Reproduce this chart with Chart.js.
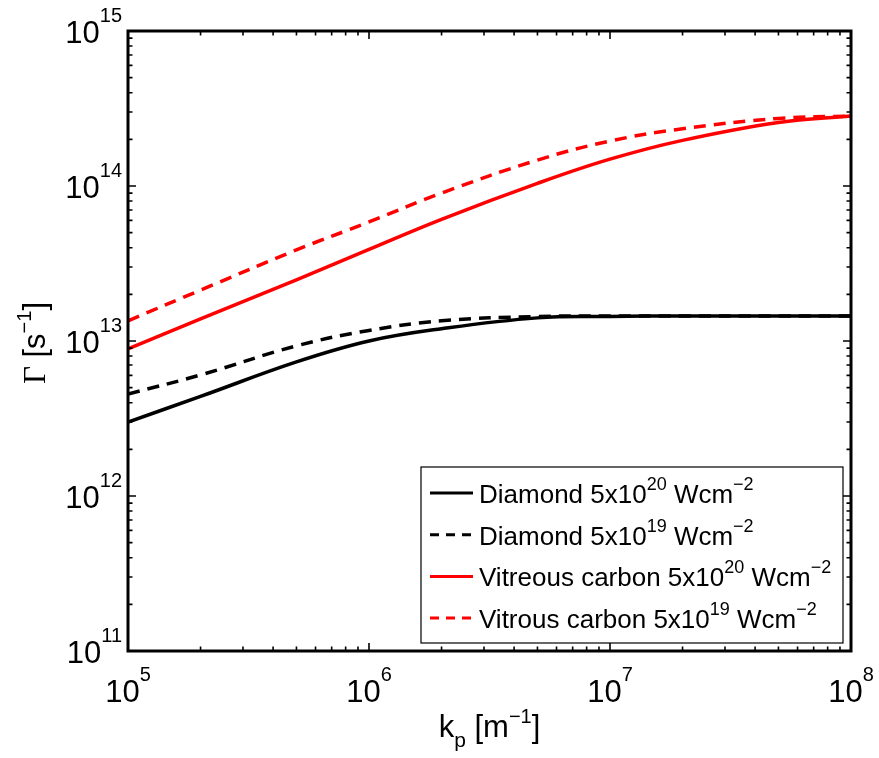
<!DOCTYPE html>
<html>
<head>
<meta charset="utf-8">
<script src="https://cdn.jsdelivr.net/npm/chart.js@4.4.1/dist/chart.umd.min.js"></script>
<style>
  html, body { margin: 0; padding: 0; background: #fff; }
  #wrap { width: 879px; height: 758px; }
</style>
</head>
<body>
<div id="wrap"><canvas id="gammaChart"></canvas></div>
<script>
// wavenumber k_p [m^-1]
const kp = [1e5, 2e5, 5e5, 1e6, 2e6, 5e6, 1e7, 2e7, 5e7, 1e8];

// growth rate Gamma [s^-1]
const diamond20   = [3.0e12, 4.39e12, 7.33e12, 1.0e13, 1.2e13, 1.41e13, 1.44e13, 1.45e13, 1.45e13, 1.45e13];
const diamond19   = [4.55e12, 6.04e12, 9.3e12, 1.17e13, 1.35e13, 1.44e13, 1.45e13, 1.45e13, 1.45e13, 1.45e13];
const vitreous20  = [8.9e12, 1.39e13, 2.48e13, 3.9e13, 6.1e13, 1.04e14, 1.49e14, 1.97e14, 2.57e14, 2.83e14];
const vitrous19   = [1.35e13, 2.13e13, 3.87e13, 5.86e13, 9.0e13, 1.47e14, 1.95e14, 2.34e14, 2.73e14, 2.83e14];

// decade exponents used for tick labels
const xTickExps = [5, 6, 7, 8];
const yTickExps = [11, 12, 13, 14, 15];

// legend entries
const legendNames = ['Diamond 5x10', 'Diamond 5x10', 'Vitreous carbon 5x10', 'Vitrous carbon 5x10'];
const legendExps  = ['20', '19', '20', '19'];

const SANS = "'Liberation Sans', Arial, sans-serif";
const SERIF = "'Liberation Serif', 'Times New Roman', serif";
const RED = '#ff0000';
const DASH = [12, 8];

const pts = (ys) => kp.map((k, i) => ({ x: k, y: ys[i] }));

const series = [
  { data: diamond20,  color: '#000', dashed: false },
  { data: diamond19,  color: '#000', dashed: true },
  { data: vitreous20, color: RED,    dashed: false },
  { data: vitrous19,  color: RED,    dashed: true },
];

// draw a run of text pieces; each piece = [text, font, baselineShift]
const runWidth = (ctx, parts) => parts.reduce((w, p) => { ctx.font = p[1]; return w + ctx.measureText(p[0]).width; }, 0);
const drawRun = (ctx, parts, x, y) => {
  let cx = x;
  parts.forEach(([t, f, dy]) => {
    ctx.font = f;
    ctx.fillText(t, cx, y + (dy || 0));
    cx += ctx.measureText(t).width;
  });
  return cx;
};

const powLabel = (e) => [['10', `31px ${SANS}`, 0], [String(e), `20px ${SANS}`, -21]];

const axesFrame = {
  id: 'axesFrame',
  afterDraw(chart) {
    const { ctx, chartArea: a, scales: { x, y } } = chart;
    ctx.save();
    ctx.fillStyle = '#000';
    ctx.strokeStyle = '#000';
    ctx.textBaseline = 'alphabetic';
    ctx.textAlign = 'left';

    // inward tick marks on all four sides
    ctx.lineWidth = 1.6;
    const majorLen = 8, minorLen = 4.5;
    const tickX = (v, len) => {
      const px = x.getPixelForValue(v);
      ctx.beginPath();
      ctx.moveTo(px, a.bottom); ctx.lineTo(px, a.bottom - len);
      ctx.moveTo(px, a.top);    ctx.lineTo(px, a.top + len);
      ctx.stroke();
    };
    const tickY = (v, len) => {
      const py = y.getPixelForValue(v);
      ctx.beginPath();
      ctx.moveTo(a.left, py);  ctx.lineTo(a.left + len, py);
      ctx.moveTo(a.right, py); ctx.lineTo(a.right - len, py);
      ctx.stroke();
    };
    xTickExps.forEach((e, i) => {
      tickX(10 ** e, majorLen);
      if (i < xTickExps.length - 1) for (let m = 2; m < 10; m++) tickX(m * 10 ** e, minorLen);
    });
    yTickExps.forEach((e, i) => {
      tickY(10 ** e, majorLen);
      if (i < yTickExps.length - 1) for (let m = 2; m < 10; m++) tickY(m * 10 ** e, minorLen);
    });

    // axes box
    ctx.lineWidth = 3;
    ctx.strokeRect(a.left, a.top, a.right - a.left, a.bottom - a.top);

    // tick labels
    xTickExps.forEach((e) => {
      const parts = powLabel(e);
      const w = runWidth(ctx, parts);
      drawRun(ctx, parts, x.getPixelForValue(10 ** e) - w / 2, a.bottom + 51);
    });
    yTickExps.forEach((e) => {
      const parts = powLabel(e);
      const w = runWidth(ctx, parts);
      drawRun(ctx, parts, a.left - 6 - w, y.getPixelForValue(10 ** e) + 12);
    });

    // x title: k_p [m^-1]
    const xt = [
      ['k', `31px ${SANS}`, 0], ['p', `21px ${SANS}`, 10],
      [' [m', `31px ${SANS}`, 0], ['\u22121', `20px ${SANS}`, -14], [']', `31px ${SANS}`, 0],
    ];
    const xtw = runWidth(ctx, xt);
    drawRun(ctx, xt, (a.left + a.right) / 2 - xtw / 2, 737);

    // y title: Gamma [s^-1], rotated
    const yt = [
      ['\u0393', `31px ${SERIF}`, 0], [' [s', `31px ${SANS}`, 0],
      ['\u22121', `20px ${SANS}`, -14], [']', `31px ${SANS}`, 0],
    ];
    const ytw = runWidth(ctx, yt);
    ctx.save();
    ctx.translate(45, (a.top + a.bottom) / 2 + 2);
    ctx.rotate(-Math.PI / 2);
    drawRun(ctx, yt, -ytw / 2, 0);
    ctx.restore();

    // legend box
    const lx = 421, ly = 467, lw = 422, lh = 176;
    ctx.fillStyle = '#fff';
    ctx.fillRect(lx, ly, lw, lh);
    ctx.lineWidth = 1.2;
    ctx.strokeStyle = '#000';
    ctx.strokeRect(lx, ly, lw, lh);
    series.forEach((s, i) => {
      const cy = 493 + i * 41.7;
      ctx.strokeStyle = s.color;
      ctx.lineWidth = 3;
      ctx.setLineDash(s.dashed ? [9, 7] : []);
      ctx.beginPath();
      ctx.moveTo(430, cy); ctx.lineTo(473, cy);
      ctx.stroke();
      ctx.setLineDash([]);
      ctx.fillStyle = '#000';
      drawRun(ctx, [
        [legendNames[i], `26px ${SANS}`, 0], [legendExps[i], `18px ${SANS}`, -13],
        [' Wcm', `26px ${SANS}`, 0], ['\u22122', `18px ${SANS}`, -13],
      ], 479, cy + 10);
    });
    ctx.restore();
  },
};

new Chart(document.getElementById('gammaChart'), {
  type: 'line',
  data: {
    datasets: series.map((s) => ({
      data: pts(s.data),
      borderColor: s.color,
      borderWidth: 3.5,
      borderDash: s.dashed ? DASH : [],
      pointRadius: 0,
      fill: false,
      tension: 0.4,
    })),
  },
  options: {
    responsive: true,
    maintainAspectRatio: false,
    animation: false,
    layout: { padding: { left: 128, top: 31, right: 28, bottom: 107 } },
    plugins: { legend: { display: false }, tooltip: { enabled: false } },
    scales: {
      x: { type: 'logarithmic', min: 1e5, max: 1e8, display: false },
      y: { type: 'logarithmic', min: 1e11, max: 1e15, display: false },
    },
  },
  plugins: [axesFrame],
});
</script>
</body>
</html>
